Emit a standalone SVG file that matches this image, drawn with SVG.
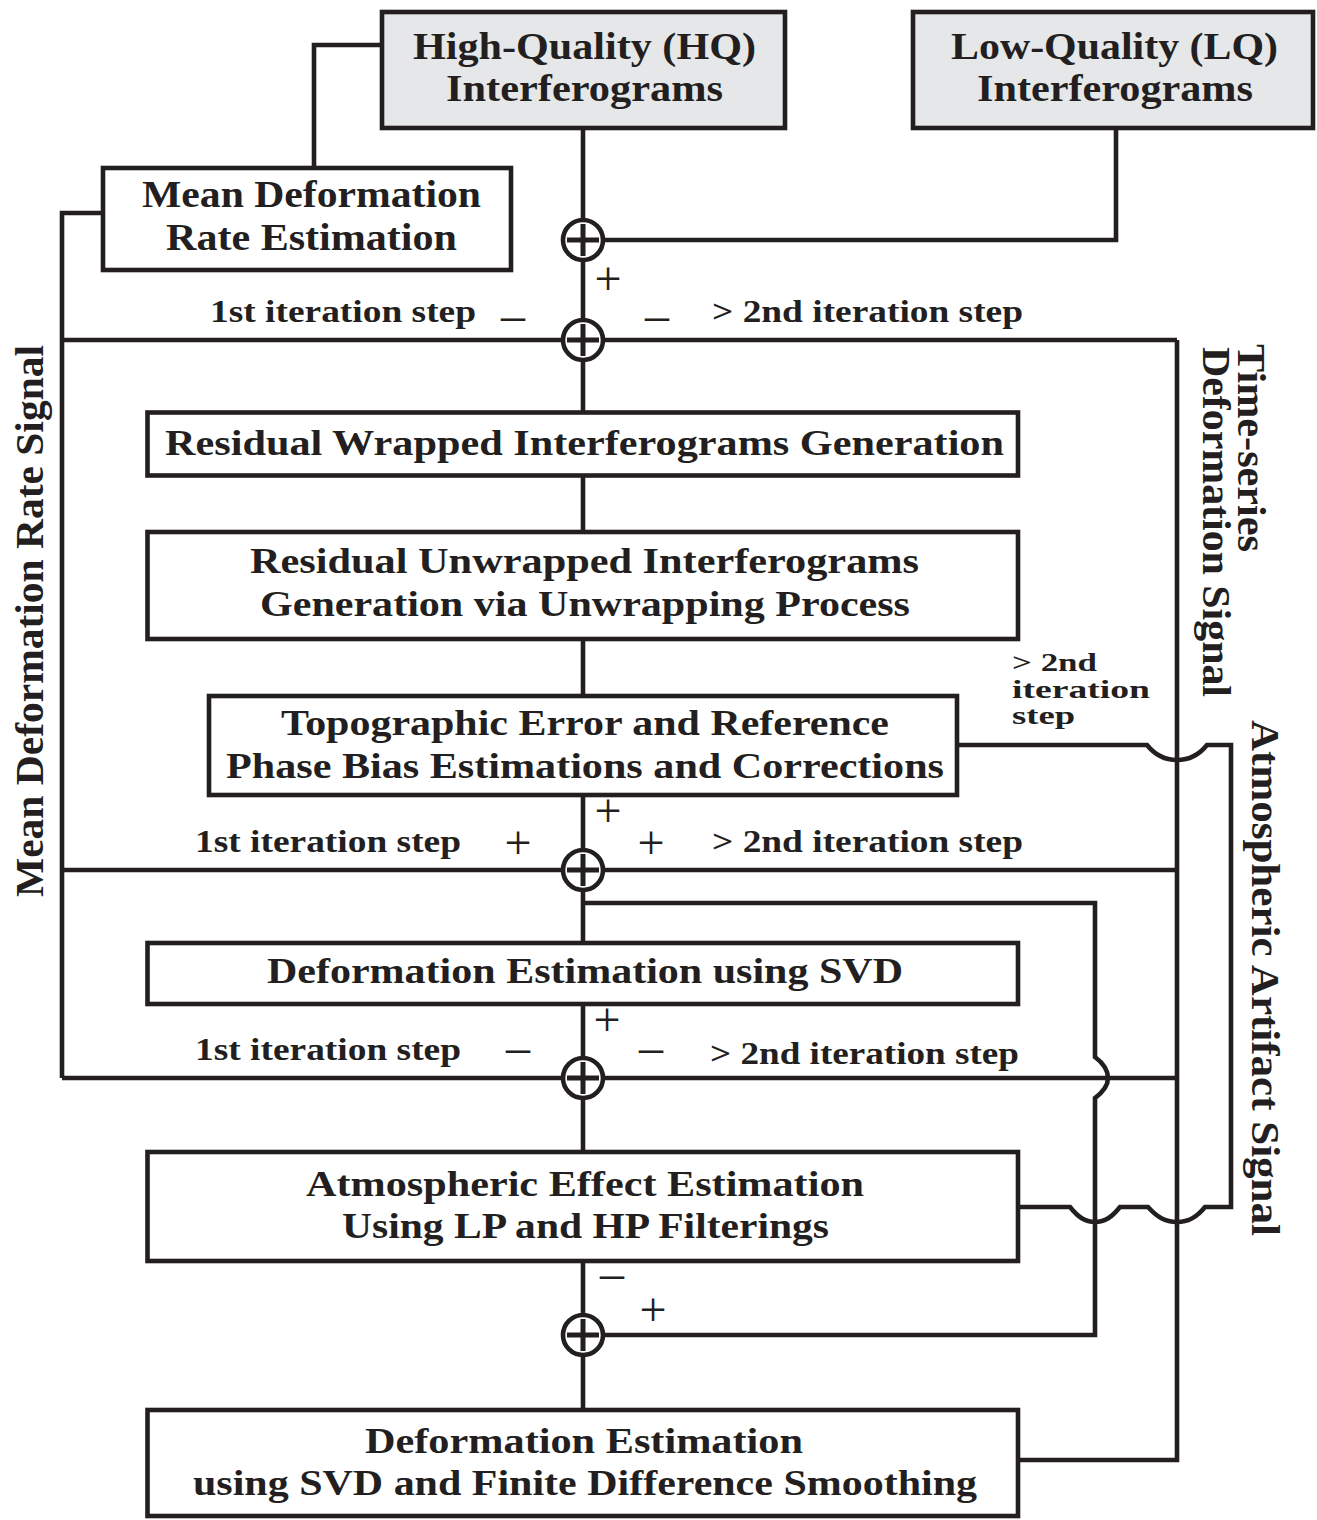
<svg xmlns="http://www.w3.org/2000/svg" width="1317" height="1520" viewBox="0 0 1317 1520">
<style>
.bx{fill:#ffffff;stroke:#231f20;stroke-width:4.6}
.gy{fill:#e6e7e8}
.ln{fill:none;stroke:#231f20;stroke-width:4.6;stroke-linejoin:miter}
.t{font-family:"Liberation Serif","Times New Roman",serif;font-weight:bold;fill:#231f20;text-anchor:middle}
.t38{font-size:38px}
.t35{font-size:35px}
.t31{font-size:31px}
.t26{font-size:26px}
.t40{font-size:40px}
.st{text-anchor:start}
.sg{font-family:"Liberation Serif","Times New Roman",serif;font-weight:normal;font-size:48px;fill:#231f20;text-anchor:middle}
</style>
<defs>
<g id="sj"><circle r="20" fill="#ffffff" stroke="#231f20" stroke-width="4.6"/><path d="M-16,0H16M0,-16V16" fill="none" stroke="#231f20" stroke-width="5"/></g>
</defs>
<rect width="1317" height="1520" fill="#ffffff"/>

<g id="connectors">
<path class="ln" d="M382,45H314V168"/>
<path class="ln" d="M103,213H62V1078"/>
<path class="ln" d="M62,340H1177"/>
<path class="ln" d="M62,870H1177"/>
<path class="ln" d="M62,1078H1177"/>
<path class="ln" d="M583,128V1410"/>
<path class="ln" d="M1116,128V240H583"/>
<path class="ln" d="M1177,340V1460H1018"/>
<path class="ln" d="M957,745H1147C1155,755 1165,760 1177,760C1189,760 1199,755 1207,745H1231V1207H1205C1197,1217 1189,1222 1177,1222C1165,1222 1157,1217 1148,1207H1120C1112,1217 1105,1222 1095,1222C1085,1222 1078,1217 1070,1207H1018"/>
<path class="ln" d="M583,903H1095V1057C1103,1063 1108,1070 1108,1078C1108,1086 1103,1092 1095,1098V1335H583"/>
</g>

<g id="sum1"><use href="#sj" x="583" y="240"/></g>
<g id="sum2"><use href="#sj" x="583" y="340"/></g>
<g id="sum3"><use href="#sj" x="583" y="870"/></g>
<g id="sum4"><use href="#sj" x="583" y="1078"/></g>
<g id="sum5"><use href="#sj" x="583" y="1335"/></g>

<g id="hq">
<rect class="bx gy" x="382" y="12" width="403" height="116"/>
<text class="t t38" x="584.5" y="59" textLength="343" lengthAdjust="spacingAndGlyphs">High-Quality (HQ)</text>
<text class="t t38" x="584.5" y="101" textLength="277" lengthAdjust="spacingAndGlyphs">Interferograms</text>
</g>
<g id="lq">
<rect class="bx gy" x="913" y="12" width="400" height="116"/>
<text class="t t38" x="1114.5" y="59" textLength="327" lengthAdjust="spacingAndGlyphs">Low-Quality (LQ)</text>
<text class="t t38" x="1115" y="101" textLength="276" lengthAdjust="spacingAndGlyphs">Interferograms</text>
</g>
<g id="meanrate">
<rect class="bx" x="103" y="168" width="408" height="102"/>
<text class="t t38" x="311.5" y="207" textLength="339" lengthAdjust="spacingAndGlyphs">Mean Deformation</text>
<text class="t t38" x="311.5" y="250" textLength="291" lengthAdjust="spacingAndGlyphs">Rate Estimation</text>
</g>
<g id="wrapped">
<rect class="bx" x="147.5" y="412.5" width="870.5" height="63"/>
<text class="t t35" x="584.5" y="455" textLength="839" lengthAdjust="spacingAndGlyphs">Residual Wrapped Interferograms Generation</text>
</g>
<g id="unwrapped">
<rect class="bx" x="147.5" y="532" width="870.5" height="107"/>
<text class="t t35" x="584.5" y="573" textLength="669" lengthAdjust="spacingAndGlyphs">Residual Unwrapped Interferograms</text>
<text class="t t35" x="585" y="616" textLength="650" lengthAdjust="spacingAndGlyphs">Generation via Unwrapping Process</text>
</g>
<g id="topo">
<rect class="bx" x="209" y="696" width="748" height="99"/>
<text class="t t35" x="585" y="735" textLength="608" lengthAdjust="spacingAndGlyphs">Topographic Error and Reference</text>
<text class="t t35" x="585" y="778" textLength="718" lengthAdjust="spacingAndGlyphs">Phase Bias Estimations and Corrections</text>
</g>
<g id="svd">
<rect class="bx" x="147.5" y="943" width="870.5" height="61"/>
<text class="t t35" x="585" y="983" textLength="636" lengthAdjust="spacingAndGlyphs">Deformation Estimation using SVD</text>
</g>
<g id="atmo">
<rect class="bx" x="147.5" y="1152" width="870.5" height="109"/>
<text class="t t35" x="585" y="1196" textLength="558" lengthAdjust="spacingAndGlyphs">Atmospheric Effect Estimation</text>
<text class="t t35" x="585.5" y="1238" textLength="487" lengthAdjust="spacingAndGlyphs">Using LP and HP Filterings</text>
</g>
<g id="smooth">
<rect class="bx" x="147.5" y="1410" width="870.5" height="106"/>
<text class="t t35" x="584" y="1453" textLength="438" lengthAdjust="spacingAndGlyphs">Deformation Estimation</text>
<text class="t t35" x="585" y="1495" textLength="784" lengthAdjust="spacingAndGlyphs">using SVD and Finite Difference Smoothing</text>
</g>

<g id="labels">
<text class="t t31" x="343" y="322" textLength="266" lengthAdjust="spacingAndGlyphs">1st iteration step</text>
<text class="t t31" x="867.5" y="322" textLength="311" lengthAdjust="spacingAndGlyphs">&gt; 2nd iteration step</text>
<text class="t t31" x="328" y="852" textLength="266" lengthAdjust="spacingAndGlyphs">1st iteration step</text>
<text class="t t31" x="867.5" y="852" textLength="311" lengthAdjust="spacingAndGlyphs">&gt; 2nd iteration step</text>
<text class="t t31" x="328" y="1060" textLength="266" lengthAdjust="spacingAndGlyphs">1st iteration step</text>
<text class="t t31" x="864.5" y="1064" textLength="309" lengthAdjust="spacingAndGlyphs">&gt; 2nd iteration step</text>
<text class="t t26 st" x="1012" y="671" textLength="85" lengthAdjust="spacingAndGlyphs">&gt; 2nd</text>
<text class="t t26 st" x="1012" y="698" textLength="138" lengthAdjust="spacingAndGlyphs">iteration</text>
<text class="t t26 st" x="1012" y="724" textLength="63" lengthAdjust="spacingAndGlyphs">step</text>
<text class="t t40" transform="translate(43,621) rotate(-90)" textLength="552" lengthAdjust="spacingAndGlyphs">Mean Deformation Rate Signal</text>
<text class="t t40 st" transform="translate(1238,344) rotate(90)" textLength="208" lengthAdjust="spacingAndGlyphs">Time-series</text>
<text class="t t40 st" transform="translate(1203,347) rotate(90)" textLength="350" lengthAdjust="spacingAndGlyphs">Deformation Signal</text>
<text class="t t40 st" transform="translate(1252,720) rotate(90)" textLength="516" lengthAdjust="spacingAndGlyphs">Atmospheric Artifact Signal</text>
</g>

<g id="signs">
<text class="sg" x="608" y="295">+</text>
<text class="sg" x="513" y="331">–</text>
<text class="sg" x="657" y="331">–</text>
<text class="sg" x="608" y="827">+</text>
<text class="sg" x="518" y="859">+</text>
<text class="sg" x="651" y="859">+</text>
<text class="sg" x="607" y="1036">+</text>
<text class="sg" x="518" y="1063">–</text>
<text class="sg" x="651" y="1063">–</text>
<text class="sg" x="612" y="1289">–</text>
<text class="sg" x="653" y="1326">+</text>
</g>
</svg>
